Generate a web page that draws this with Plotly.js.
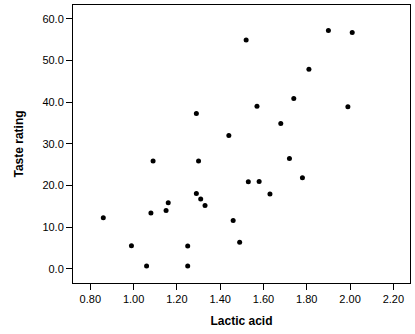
<!DOCTYPE html>
<html><head><meta charset="utf-8">
<script src="https://cdn.plot.ly/plotly-3.0.1.min.js"></script>
<style>html,body{margin:0;padding:0;background:#fff}#c{width:415px;height:334px}</style>
</head><body><div id="c"></div>
<script>
const lactic = [0.86,1.53,1.57,1.81,0.99,1.09,1.29,1.78,1.29,1.58,1.68,1.90,1.06,1.30,1.52,1.74,1.16,1.49,1.63,1.99,1.15,1.33,1.44,2.01,1.31,1.46,1.72,1.25,1.08,1.25];
const taste = [12.3,20.9,39.0,47.9,5.6,25.9,37.3,21.9,18.1,21.0,34.9,57.2,0.7,25.9,54.9,40.9,15.9,6.4,18.0,38.9,14.0,15.2,32.0,56.7,16.8,11.6,26.5,0.7,13.4,5.5];
const xTicks = [0.8,1.0,1.2,1.4,1.6,1.8,2.0,2.2];
const yTicks = [0,10,20,30,40,50,60];
const font = {family:'Liberation Sans, Arial, sans-serif', size:11, color:'#000'};
Plotly.newPlot('c', [{
  x: lactic, y: taste, type:'scatter', mode:'markers',
  marker:{color:'#000', size:5}
}], {
  width:415, height:334,
  margin:{l:73, r:5, t:5, b:51},
  paper_bgcolor:'#fff', plot_bgcolor:'#fff',
  showlegend:false,
  font: font,
  xaxis:{range:[0.72,2.277], tickvals:xTicks, ticktext:xTicks.map(v=>v.toFixed(2)),
    ticks:'outside', ticklen:6, tickcolor:'#000', showgrid:false, zeroline:false,
    showline:true, linecolor:'#000', linewidth:1, mirror:true,
    title:{text:'Lactic acid', font:{family:'Liberation Sans, Arial, sans-serif', size:12, color:'#000', weight:'bold'}, standoff:12}},
  yaxis:{range:[-3.36,63.3], tickvals:yTicks, ticktext:yTicks.map(v=>v.toFixed(1)),
    ticks:'outside', ticklen:6, tickcolor:'#000', showgrid:false, zeroline:false,
    showline:true, linecolor:'#000', linewidth:1, mirror:true,
    title:{text:'Taste rating', font:{family:'Liberation Sans, Arial, sans-serif', size:12, color:'#000', weight:'bold'}, standoff:16}}
}, {staticPlot:true, displayModeBar:false});
</script></body></html>
